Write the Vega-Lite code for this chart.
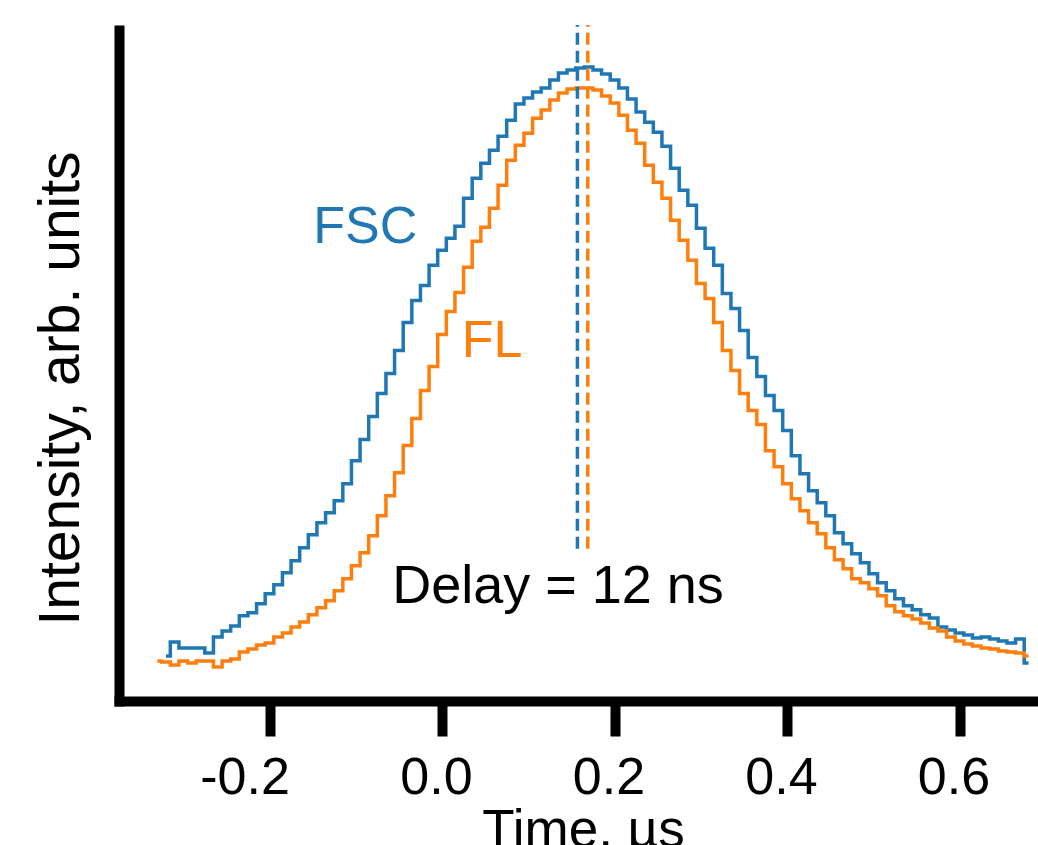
{
  "$schema": "https://vega.github.io/schema/vega-lite/v6.json",
  "autosize": "none",
  "width": 919,
  "height": 671,
  "padding": {"left": 119, "top": 30, "right": 0, "bottom": 144},
  "background": "white",
  "config": {
    "view": {"stroke": null},
    "font": "Liberation Sans",
    "axis": {"grid": false}
  },
  "datasets": {
    "curves": [
      {"t": -0.32, "I": 5, "s": "FSC"}, {"t": -0.31, "I": 19, "s": "FSC"}, {"t": -0.30, "I": 13, "s": "FSC"}, {"t": -0.29, "I": 13, "s": "FSC"}, {"t": -0.28, "I": 13, "s": "FSC"}, {"t": -0.27, "I": 8, "s": "FSC"}, {"t": -0.26, "I": 24, "s": "FSC"}, {"t": -0.25, "I": 30, "s": "FSC"}, {"t": -0.24, "I": 35, "s": "FSC"}, {"t": -0.23, "I": 45, "s": "FSC"}, {"t": -0.22, "I": 48, "s": "FSC"}, {"t": -0.21, "I": 57, "s": "FSC"}, {"t": -0.20, "I": 67, "s": "FSC"}, {"t": -0.19, "I": 76, "s": "FSC"}, {"t": -0.18, "I": 88, "s": "FSC"}, {"t": -0.17, "I": 100, "s": "FSC"}, {"t": -0.16, "I": 113, "s": "FSC"}, {"t": -0.15, "I": 126, "s": "FSC"}, {"t": -0.14, "I": 138, "s": "FSC"}, {"t": -0.13, "I": 148, "s": "FSC"}, {"t": -0.12, "I": 160, "s": "FSC"}, {"t": -0.11, "I": 177, "s": "FSC"}, {"t": -0.10, "I": 200, "s": "FSC"}, {"t": -0.09, "I": 221, "s": "FSC"}, {"t": -0.08, "I": 244, "s": "FSC"}, {"t": -0.07, "I": 267, "s": "FSC"}, {"t": -0.06, "I": 287, "s": "FSC"}, {"t": -0.05, "I": 310, "s": "FSC"}, {"t": -0.04, "I": 338, "s": "FSC"}, {"t": -0.03, "I": 360, "s": "FSC"}, {"t": -0.02, "I": 375, "s": "FSC"}, {"t": -0.01, "I": 395, "s": "FSC"}, {"t": 0.00, "I": 410, "s": "FSC"}, {"t": 0.01, "I": 422, "s": "FSC"}, {"t": 0.02, "I": 434, "s": "FSC"}, {"t": 0.03, "I": 462, "s": "FSC"}, {"t": 0.04, "I": 482, "s": "FSC"}, {"t": 0.05, "I": 497, "s": "FSC"}, {"t": 0.06, "I": 510, "s": "FSC"}, {"t": 0.07, "I": 524, "s": "FSC"}, {"t": 0.08, "I": 540, "s": "FSC"}, {"t": 0.09, "I": 556, "s": "FSC"}, {"t": 0.10, "I": 562, "s": "FSC"}, {"t": 0.11, "I": 568, "s": "FSC"}, {"t": 0.12, "I": 572, "s": "FSC"}, {"t": 0.13, "I": 580, "s": "FSC"}, {"t": 0.14, "I": 587, "s": "FSC"}, {"t": 0.15, "I": 590, "s": "FSC"}, {"t": 0.16, "I": 592, "s": "FSC"}, {"t": 0.17, "I": 593, "s": "FSC"}, {"t": 0.18, "I": 590, "s": "FSC"}, {"t": 0.19, "I": 586, "s": "FSC"}, {"t": 0.20, "I": 580, "s": "FSC"}, {"t": 0.21, "I": 572, "s": "FSC"}, {"t": 0.22, "I": 561, "s": "FSC"}, {"t": 0.23, "I": 548, "s": "FSC"}, {"t": 0.24, "I": 538, "s": "FSC"}, {"t": 0.25, "I": 528, "s": "FSC"}, {"t": 0.26, "I": 514, "s": "FSC"}, {"t": 0.27, "I": 492, "s": "FSC"}, {"t": 0.28, "I": 470, "s": "FSC"}, {"t": 0.29, "I": 455, "s": "FSC"}, {"t": 0.30, "I": 432, "s": "FSC"}, {"t": 0.31, "I": 412, "s": "FSC"}, {"t": 0.32, "I": 395, "s": "FSC"}, {"t": 0.33, "I": 367, "s": "FSC"}, {"t": 0.34, "I": 352, "s": "FSC"}, {"t": 0.35, "I": 330, "s": "FSC"}, {"t": 0.36, "I": 303, "s": "FSC"}, {"t": 0.37, "I": 284, "s": "FSC"}, {"t": 0.38, "I": 265, "s": "FSC"}, {"t": 0.39, "I": 250, "s": "FSC"}, {"t": 0.40, "I": 230, "s": "FSC"}, {"t": 0.41, "I": 205, "s": "FSC"}, {"t": 0.42, "I": 187, "s": "FSC"}, {"t": 0.43, "I": 170, "s": "FSC"}, {"t": 0.44, "I": 158, "s": "FSC"}, {"t": 0.45, "I": 145, "s": "FSC"}, {"t": 0.46, "I": 128, "s": "FSC"}, {"t": 0.47, "I": 117, "s": "FSC"}, {"t": 0.48, "I": 107, "s": "FSC"}, {"t": 0.49, "I": 98, "s": "FSC"}, {"t": 0.50, "I": 87, "s": "FSC"}, {"t": 0.51, "I": 78, "s": "FSC"}, {"t": 0.52, "I": 70, "s": "FSC"}, {"t": 0.53, "I": 62, "s": "FSC"}, {"t": 0.54, "I": 55, "s": "FSC"}, {"t": 0.55, "I": 51, "s": "FSC"}, {"t": 0.56, "I": 46, "s": "FSC"}, {"t": 0.57, "I": 43, "s": "FSC"}, {"t": 0.58, "I": 34, "s": "FSC"}, {"t": 0.59, "I": 31, "s": "FSC"}, {"t": 0.60, "I": 28, "s": "FSC"}, {"t": 0.61, "I": 26, "s": "FSC"}, {"t": 0.62, "I": 23, "s": "FSC"}, {"t": 0.63, "I": 24, "s": "FSC"}, {"t": 0.64, "I": 22, "s": "FSC"}, {"t": 0.65, "I": 20, "s": "FSC"}, {"t": 0.66, "I": 18, "s": "FSC"}, {"t": 0.67, "I": 22, "s": "FSC"}, {"t": 0.68, "I": -2, "s": "FSC"},
      {"t": -0.33, "I": 0, "s": "FL"}, {"t": -0.32, "I": -1, "s": "FL"}, {"t": -0.31, "I": -4, "s": "FL"}, {"t": -0.30, "I": 0, "s": "FL"}, {"t": -0.29, "I": -2, "s": "FL"}, {"t": -0.28, "I": 0, "s": "FL"}, {"t": -0.27, "I": 0, "s": "FL"}, {"t": -0.26, "I": -6, "s": "FL"}, {"t": -0.25, "I": 0, "s": "FL"}, {"t": -0.24, "I": 2, "s": "FL"}, {"t": -0.23, "I": 9, "s": "FL"}, {"t": -0.22, "I": 12, "s": "FL"}, {"t": -0.21, "I": 16, "s": "FL"}, {"t": -0.20, "I": 18, "s": "FL"}, {"t": -0.19, "I": 24, "s": "FL"}, {"t": -0.18, "I": 28, "s": "FL"}, {"t": -0.17, "I": 34, "s": "FL"}, {"t": -0.16, "I": 39, "s": "FL"}, {"t": -0.15, "I": 46, "s": "FL"}, {"t": -0.14, "I": 53, "s": "FL"}, {"t": -0.13, "I": 60, "s": "FL"}, {"t": -0.12, "I": 70, "s": "FL"}, {"t": -0.11, "I": 82, "s": "FL"}, {"t": -0.10, "I": 95, "s": "FL"}, {"t": -0.09, "I": 108, "s": "FL"}, {"t": -0.08, "I": 125, "s": "FL"}, {"t": -0.07, "I": 145, "s": "FL"}, {"t": -0.06, "I": 165, "s": "FL"}, {"t": -0.05, "I": 188, "s": "FL"}, {"t": -0.04, "I": 215, "s": "FL"}, {"t": -0.03, "I": 242, "s": "FL"}, {"t": -0.02, "I": 270, "s": "FL"}, {"t": -0.01, "I": 294, "s": "FL"}, {"t": 0.00, "I": 326, "s": "FL"}, {"t": 0.01, "I": 349, "s": "FL"}, {"t": 0.02, "I": 368, "s": "FL"}, {"t": 0.03, "I": 393, "s": "FL"}, {"t": 0.04, "I": 419, "s": "FL"}, {"t": 0.05, "I": 433, "s": "FL"}, {"t": 0.06, "I": 452, "s": "FL"}, {"t": 0.07, "I": 475, "s": "FL"}, {"t": 0.08, "I": 500, "s": "FL"}, {"t": 0.09, "I": 515, "s": "FL"}, {"t": 0.10, "I": 527, "s": "FL"}, {"t": 0.11, "I": 542, "s": "FL"}, {"t": 0.12, "I": 550, "s": "FL"}, {"t": 0.13, "I": 560, "s": "FL"}, {"t": 0.14, "I": 567, "s": "FL"}, {"t": 0.15, "I": 571, "s": "FL"}, {"t": 0.16, "I": 572, "s": "FL"}, {"t": 0.17, "I": 572, "s": "FL"}, {"t": 0.18, "I": 570, "s": "FL"}, {"t": 0.19, "I": 564, "s": "FL"}, {"t": 0.20, "I": 557, "s": "FL"}, {"t": 0.21, "I": 545, "s": "FL"}, {"t": 0.22, "I": 530, "s": "FL"}, {"t": 0.23, "I": 517, "s": "FL"}, {"t": 0.24, "I": 495, "s": "FL"}, {"t": 0.25, "I": 478, "s": "FL"}, {"t": 0.26, "I": 462, "s": "FL"}, {"t": 0.27, "I": 440, "s": "FL"}, {"t": 0.28, "I": 420, "s": "FL"}, {"t": 0.29, "I": 400, "s": "FL"}, {"t": 0.30, "I": 377, "s": "FL"}, {"t": 0.31, "I": 362, "s": "FL"}, {"t": 0.32, "I": 338, "s": "FL"}, {"t": 0.33, "I": 310, "s": "FL"}, {"t": 0.34, "I": 290, "s": "FL"}, {"t": 0.35, "I": 267, "s": "FL"}, {"t": 0.36, "I": 250, "s": "FL"}, {"t": 0.37, "I": 236, "s": "FL"}, {"t": 0.38, "I": 210, "s": "FL"}, {"t": 0.39, "I": 194, "s": "FL"}, {"t": 0.40, "I": 177, "s": "FL"}, {"t": 0.41, "I": 162, "s": "FL"}, {"t": 0.42, "I": 150, "s": "FL"}, {"t": 0.43, "I": 138, "s": "FL"}, {"t": 0.44, "I": 127, "s": "FL"}, {"t": 0.45, "I": 113, "s": "FL"}, {"t": 0.46, "I": 101, "s": "FL"}, {"t": 0.47, "I": 92, "s": "FL"}, {"t": 0.48, "I": 82, "s": "FL"}, {"t": 0.49, "I": 78, "s": "FL"}, {"t": 0.50, "I": 72, "s": "FL"}, {"t": 0.51, "I": 65, "s": "FL"}, {"t": 0.52, "I": 55, "s": "FL"}, {"t": 0.53, "I": 49, "s": "FL"}, {"t": 0.54, "I": 45, "s": "FL"}, {"t": 0.55, "I": 42, "s": "FL"}, {"t": 0.56, "I": 38, "s": "FL"}, {"t": 0.57, "I": 33, "s": "FL"}, {"t": 0.58, "I": 30, "s": "FL"}, {"t": 0.59, "I": 24, "s": "FL"}, {"t": 0.60, "I": 20, "s": "FL"}, {"t": 0.61, "I": 17, "s": "FL"}, {"t": 0.62, "I": 15, "s": "FL"}, {"t": 0.63, "I": 13, "s": "FL"}, {"t": 0.64, "I": 12, "s": "FL"}, {"t": 0.65, "I": 10, "s": "FL"}, {"t": 0.66, "I": 9, "s": "FL"}, {"t": 0.67, "I": 8, "s": "FL"}, {"t": 0.68, "I": 5, "s": "FL"}
    ],
    "peaks": [
      {"t": 0.157, "lo": 112, "hi": 635, "s": "FSC"},
      {"t": 0.169, "lo": 112, "hi": 635, "s": "FL"}
    ],
    "labels": [
      {"t": -0.089, "I": 417, "text": "FSC", "s": "FSC"},
      {"t": 0.058, "I": 303, "text": "FL", "s": "FL"}
    ],
    "note": [
      {"t": 0.1345, "I": 58, "text": "Delay = 12 ns", "s": "Delay"}
    ]
  },
  "layer": [
    {
      "data": {"name": "curves"},
      "mark": {"type": "line", "interpolate": "step", "strokeWidth": 3.5, "clip": true},
      "encoding": {
        "x": {
          "field": "t", "type": "quantitative",
          "scale": {"domain": [-0.3745, 0.691], "nice": false, "zero": false},
          "axis": {
            "title": "Time, µs",
            "values": [-0.2, 0, 0.2, 0.4, 0.6],
            "labelExpr": "datum.value < 0 ? '-' + format(-datum.value, '.1f') : format(datum.value, '.1f')",
            "domainColor": "black", "domainWidth": 10, "domainCap": "square",
            "tickColor": "black", "tickWidth": 10, "tickSize": 35,
            "labelFontSize": 52, "labelColor": "black", "labelBaseline": "alphabetic", "labelPadding": 57,
            "labelOffset": {"condition": {"test": "datum.value < 0", "value": -25}, "value": -6},
            "labelFont": "Liberation Sans", "labelFlush": false, "labelOverlap": false,
            "titleFontSize": 53, "titleFontWeight": "normal", "titleColor": "black", "titleFont": "Liberation Sans",
            "titleBaseline": "alphabetic", "titleX": 464, "titleY": 145, "titleAnchor": null
          }
        },
        "y": {
          "field": "I", "type": "quantitative",
          "scale": {"domain": [-40, 630], "nice": false, "zero": false},
          "axis": {
            "title": "Intensity, arb. units",
            "ticks": false, "labels": false,
            "domainColor": "black", "domainWidth": 10, "domainCap": "square",
            "titleFontSize": 57, "titleFontWeight": "normal", "titleColor": "black", "titleFont": "Liberation Sans",
            "titleBaseline": "alphabetic", "titleAngle": 270, "titleX": -41, "titleY": 358, "titleAlign": "center"
          }
        },
        "color": {
          "field": "s", "type": "nominal",
          "scale": {"domain": ["FSC", "FL", "Delay"], "range": ["#1f77b4", "#ff7f0e", "#000000"]},
          "legend": null
        },
        "detail": {"field": "s"}
      }
    },
    {
      "data": {"name": "peaks"},
      "mark": {"type": "rule", "strokeWidth": 3.5, "strokeDash": [12, 6]},
      "encoding": {
        "x": {"field": "t", "type": "quantitative"},
        "y": {"field": "lo", "type": "quantitative"},
        "y2": {"field": "hi"},
        "color": {"field": "s", "type": "nominal", "legend": null}
      }
    },
    {
      "data": {"name": "labels"},
      "mark": {"type": "text", "fontSize": 52, "font": "Liberation Sans", "align": "center", "baseline": "alphabetic"},
      "encoding": {
        "x": {"field": "t", "type": "quantitative"},
        "y": {"field": "I", "type": "quantitative"},
        "text": {"field": "text"},
        "color": {"field": "s", "type": "nominal", "legend": null}
      }
    },
    {
      "data": {"name": "note"},
      "mark": {"type": "text", "fontSize": 54, "font": "Liberation Sans", "align": "center", "baseline": "alphabetic"},
      "encoding": {
        "x": {"field": "t", "type": "quantitative"},
        "y": {"field": "I", "type": "quantitative"},
        "text": {"field": "text"},
        "color": {"field": "s", "type": "nominal", "legend": null}
      }
    }
  ]
}
